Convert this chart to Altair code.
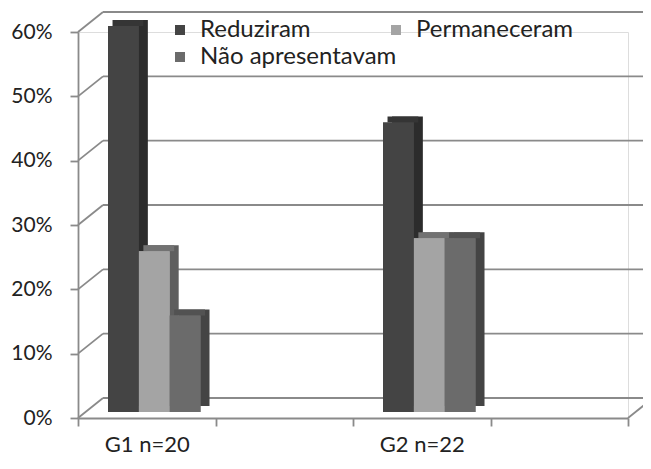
import altair as alt
import pandas as pd

# ---- data ----
groups = ["G1 n=20", "G2 n=22"]
x_slots = ["G1 n=20", "_gap1", "G2 n=22", "_gap2"]
series = ["Reduziram", "Permaneceram", "Não apresentavam"]
g1_values = [0.60, 0.25, 0.15]
g2_values = [0.45, 0.27, 0.27]
y_ticks = [0.0, 0.1, 0.2, 0.3, 0.4, 0.5, 0.6]
legend_col1 = ["Reduziram", "Não apresentavam"]
legend_col2 = ["Permaneceram"]

# ---- styles ----
front_colors = ["#444444", "#a4a4a4", "#6b6b6b"]
side_colors = ["#2c2c2c", "#5e5e5e", "#444444"]
top_colors = ["#353535", "#727272", "#525252"]
grid_color = "#8a8a8a"
font = "Lato"
text_color = "#222222"

rows = []
for g, vals in zip(groups, [g1_values, g2_values]):
    for s, v in zip(series, vals):
        rows.append({"group": g, "series": s, "value": v})
df = pd.DataFrame(rows)
ticks_df = pd.DataFrame({"v": y_ticks})
floor_df = pd.DataFrame({"v": [0.0]})

W, H = 550, 386
DX, DY = 25, -20  # back-wall depth offset (px)

yscale = alt.Scale(domain=[0, 0.6], nice=False, zero=True)
xscale = alt.Scale(domain=x_slots, paddingInner=0, paddingOuter=0)

y_axis = alt.Axis(
    values=y_ticks, format=".0%", tickSize=8, tickColor=grid_color,
    tickWidth=1.8, domainColor=grid_color, domainWidth=1.8,
    labelFont=font, labelFontSize=21, labelColor=text_color, labelPadding=18,
    grid=False, title=None,
)
x_axis = alt.Axis(
    labelAngle=0, tickBand="extent", tickSize=8, tickColor=grid_color,
    tickWidth=1.8, domainColor=grid_color, domainWidth=1.8,
    labelFont=font, labelFontSize=22, labelColor=text_color, labelPadding=8,
    labelExpr="indexof(datum.label, '_') == 0 ? '' : datum.label",
    grid=False, title=None,
)
Y = lambda f: alt.Y(f, scale=yscale, axis=y_axis)
X = alt.X("group:N", scale=xscale, axis=x_axis)

def xo(align):
    return alt.XOffset(
        "series:N", sort=series,
        scale=alt.Scale(domain=series, paddingInner=0, paddingOuter=0.73, align=align),
    )

def legend(values, lx):
    return alt.Legend(
        title=None, orient="none", legendX=lx, legendY=-14,
        direction="vertical", values=values, rowPadding=3,
        symbolType="square", symbolSize=100, symbolStrokeWidth=0,
        labelFont=font, labelFontSize=24, labelColor=text_color, labelOffset=8,
        labelLimit=400, padding=0,
    )

# back wall gridlines
back_grid = alt.Chart(ticks_df).mark_rule(
    color=grid_color, strokeWidth=1.8, yOffset=DY, y2Offset=DY
).encode(x=alt.value(DX), x2=alt.value(W + 120), y=Y("v:Q"))
# diagonals from front ticks to back wall
diag = alt.Chart(ticks_df).mark_rule(
    color=grid_color, strokeWidth=1.8, y2Offset=DY
).encode(x=alt.value(0), x2=alt.value(DX), y=Y("v:Q"), y2="v:Q")
floor_right = alt.Chart(floor_df).mark_rule(
    color=grid_color, strokeWidth=1.8, y2Offset=DY
).encode(x=alt.value(W), x2=alt.value(W + DX), y=Y("v:Q"), y2="v:Q")

base = alt.Chart(df)
side = base.mark_bar(yOffset=-12, y2Offset=-12).encode(
    x=X, xOffset=xo(0.867), y=Y("value:Q"),
    color=alt.Color("series:N", scale=alt.Scale(domain=series, range=side_colors), legend=None),
)
top = base.mark_bar(yOffset=-12, y2Offset=-6).encode(
    x=X, xOffset=xo(0.767), y=Y("value:Q"), y2="value:Q",
    color=alt.Color("series:N", scale=alt.Scale(domain=series, range=top_colors), legend=None),
)
front_b = base.mark_bar(yOffset=-6, y2Offset=-6).encode(
    x=X, xOffset=xo(0.667), y=Y("value:Q"),
    color=alt.Color(
        "series:N", scale=alt.Scale(domain=series, range=front_colors), sort=series,
        legend=legend(legend_col2, 306),
    ),
)
front = base.mark_bar(yOffset=-6, y2Offset=-6).encode(
    x=X, xOffset=xo(0.667), y=Y("value:Q"),
    color=alt.Color(
        "series:N", scale=alt.Scale(domain=series, range=front_colors), sort=series,
        legend=legend(legend_col1, 90),
    ),
)

chart = alt.layer(back_grid, diag, floor_right, side, top, front_b, front).resolve_scale(
    color="independent", xOffset="independent"
).properties(
    width=W, height=H,
    autosize=alt.AutoSizeParams(type="none"),
    padding={"left": 70, "top": 24, "right": 15, "bottom": 40},
).configure_view(stroke=None).configure(background="white")

chart.save("out.html", embed_options={"renderer": "svg", "actions": False})
